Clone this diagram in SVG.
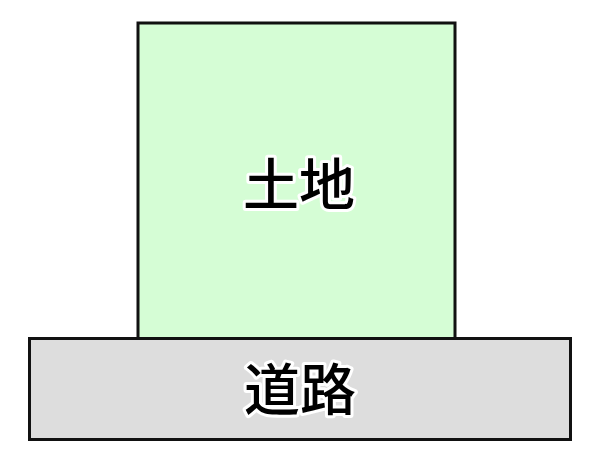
<svg xmlns="http://www.w3.org/2000/svg" width="600" height="463" viewBox="0 0 600 463">
<style>
.box{stroke:#111;stroke-width:3}
.lbl{font-family:"Noto Sans CJK JP","Noto Sans CJK SC",sans-serif;font-size:56px;font-weight:500;fill:#000;stroke:#fff;stroke-width:6;stroke-linejoin:round;paint-order:stroke;text-anchor:middle}
</style>
<rect width="600" height="463" fill="#fff"/>
<g id="land">
<rect class="box" x="138" y="23" width="317" height="316" fill="#d5fdd5"/>
<text class="lbl" x="299" y="205">土地</text>
</g>
<g id="road">
<rect class="box" x="29.5" y="338.5" width="541" height="101" fill="#dddddd"/>
<text class="lbl" x="300" y="410">道路</text>
</g>
<g id="connectors"></g>
</svg>
